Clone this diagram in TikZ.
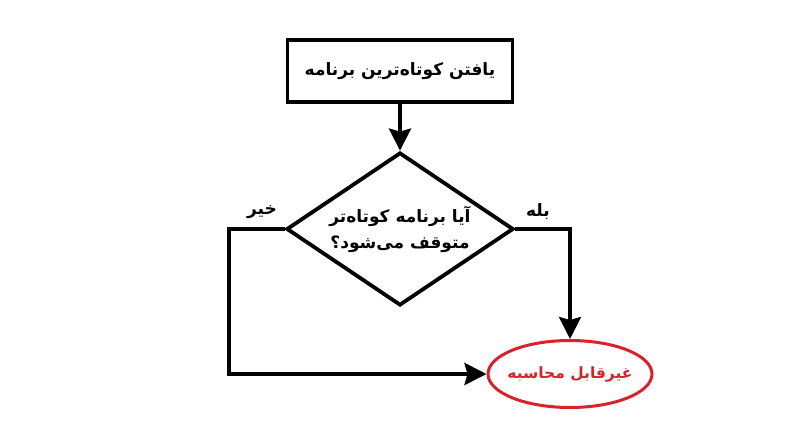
\documentclass[tikz,border=0pt]{standalone}
\usepackage{fontspec}
\TeXXeTstate=1
\newfontfamily\arabicfont[Script=Arabic]{DejaVu Sans}
\usetikzlibrary{shapes.geometric,arrows.meta}
\definecolor{ered}{HTML}{D7232A}
\begin{document}
\begin{tikzpicture}[x=1pt,y=-1pt,
  every node/.style={font=\arabicfont\bfseries\fontsize{17}{26}\selectfont},
  procbox/.style={draw, line width=3.8pt, rectangle, minimum width=225pt, minimum height=62pt, inner sep=0pt},
  decbox/.style={draw, line width=3.8pt, diamond, minimum width=227pt, minimum height=153pt, inner sep=0pt},
  endbox/.style={draw=ered, line width=3pt, ellipse, minimum width=164pt, minimum height=67pt, inner sep=0pt},
  conn/.style={line width=3.8pt, -{Stealth[length=22pt,width=22pt,inset=3pt]}},
  lab/.style={inner sep=0pt}
]
\useasboundingbox (0,0) rectangle (800,447);
\node[procbox] (a) at (400,71) {\beginR یافتن کوتاه‌ترین برنامه\endR};
\node[decbox, label={[align=center, inner sep=0pt]center:{\beginR آیا برنامه کوتاه‌تر\endR}\\{\beginR متوقف می‌شود؟\endR}}] (d) at (400,229) {};
\node[endbox, label={[text=ered, inner sep=0pt, font=\arabicfont\bfseries\fontsize{15.5}{20}\selectfont]center:{\beginR غیرقابل محاسبه\endR}}] (e) at (570,374) {};
\node[lab] (no) at (262,212) {\beginR خیر\endR};
\node[lab] (yes) at (538,212) {\beginR بله\endR};
\coordinate (lc) at (229,229);
\draw[conn] (a.south) -- (d.north);
\draw[conn] (d.west) -- (lc) |- (e.west);
\draw[conn] (d.east) -| (e.north);
\end{tikzpicture}
\end{document}
